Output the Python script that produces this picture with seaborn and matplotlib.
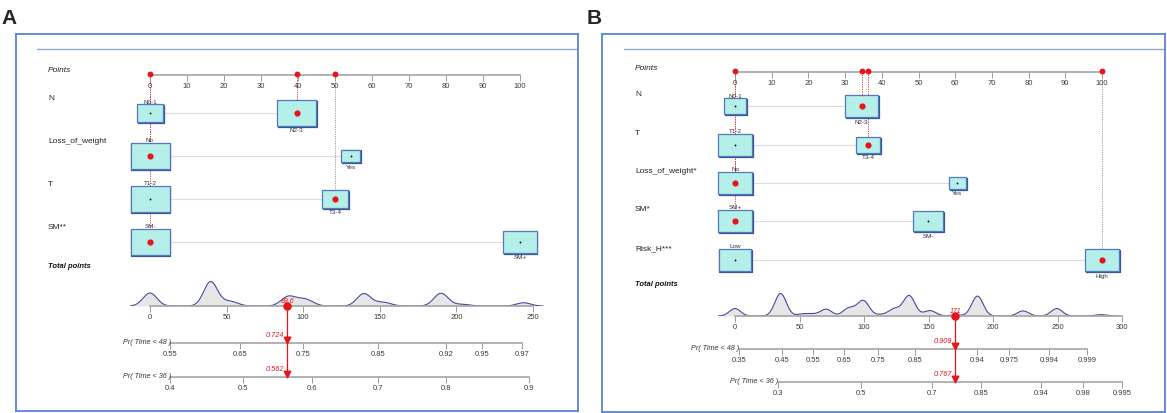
import numpy as np
import pandas as pd
import matplotlib.pyplot as plt
from matplotlib.path import Path
import matplotlib.transforms as mtransforms
import seaborn as sns

# ---------------- panel A ----------------
A_VARS = ['N', 'Loss_of_weight', 'T', 'SM**']
A_CATS = [['N0-1', 'N2-3'], ['No', 'Yes'], ['T1-2', 'T3-4'], ['SM-', 'SM+']]
A_PTS = [[0, 39.6], [0, 54.3], [0, 50], [0, 100]]
A_SHARE = [[0.31, 0.69], [0.81, 0.19], [0.69, 0.31], [0.58, 0.42]]
A_PICK = [1, 0, 1, 0]
A_TOT_TICKS = [0, 50, 100, 150, 200, 250]
A_DENS_X = [0, 39.6, 50, 54.3, 89.6, 93.9, 100, 104.3, 139.6, 150, 154.3, 189.6, 193.9, 204.3, 243.9]
A_DENS_W = [40, 75, 8, 8, 24, 8, 14, 8, 38, 7, 6, 36, 5, 5, 10]
A_PR48_AT = [13, 58.7, 99.8, 148.6, 193, 217, 243]
A_PR48_LAB = ['0.55', '0.65', '0.75', '0.85', '0.92', '0.95', '0.97']
A_PR36_AT = [13, 60.4, 105.8, 149, 193, 247.6]
A_PR36_LAB = ['0.4', '0.5', '0.6', '0.7', '0.8', '0.9']
A_PROB = [0.724, 0.562]

# ---------------- panel B ----------------
B_VARS = ['N', 'T', 'Loss_of_weight*', 'SM*', 'Risk_H***']
B_CATS = [['N0-1', 'N2-3'], ['T1-2', 'T3-4'], ['No', 'Yes'], ['SM+', 'SM-'], ['Low', 'High']]
B_PTS = [[0, 34.5], [0, 36.2], [0, 60.6], [0, 52.6], [0, 100]]
B_SHARE = [[0.31, 0.69], [0.67, 0.33], [0.79, 0.21], [0.55, 0.45], [0.49, 0.51]]
B_PICK = [1, 1, 0, 0, 1]
B_TOT_TICKS = [0, 50, 100, 150, 200, 250, 300]
B_DENS_X = [0, 34.5, 36.2, 52.6, 60.6, 70.7, 87.1, 88.8, 95.1, 100, 113.2, 123.3, 131.3,
            134.5, 136.2, 149.4, 152.6, 170.7, 187.1, 188.8, 223.3, 249.4, 283.9]
B_DENS_W = [22, 34, 34, 6, 5, 20, 11, 11, 10, 40, 4, 20, 8, 28, 28, 8, 9, 3, 30, 30, 15, 22, 4]
B_PR48_AT = [3, 36.7, 60.5, 84.8, 111, 139.5, 187.4, 212.6, 243.6, 272.8]
B_PR48_LAB = ['0.35', '0.45', '0.55', '0.65', '0.75', '0.85', '0.94', '0.975', '0.994', '0.999']
B_PR36_AT = [33, 98, 152.4, 191, 237, 270, 300]
B_PR36_LAB = ['0.3', '0.5', '0.7', '0.85', '0.94', '0.98', '0.995']
B_PROB = [0.909, 0.767]

PR_NAMES = ['Pr( Time < 48 )', 'Pr( Time < 36 )']

# ---------------- layout (pixels) ----------------
W, H = 1167, 414
LAY_A = dict(tag='A', tag_xy=(1, 18), frame=(16, 35, 578, 412), head=(37, 50),
             pts_px=(150, 520), tot_px=(150, 533), tot_max=250, lab_x=48, lab_dy=15,
             rows=[76, 114, 157, 200, 243], tot_lab_y=267, dens_y=307, dens_h=25,
             pr_y=[344, 378], box_w=39)
LAY_B = dict(tag='B', tag_xy=(587, 18), frame=(602, 35, 1165, 413), head=(624, 50),
             pts_px=(735, 1102), tot_px=(735, 1122), tot_max=300, lab_x=635, lab_dy=12.5,
             rows=[73, 107, 146, 184, 222, 261], tot_lab_y=285, dens_y=317, dens_h=23,
             pr_y=[350, 383], box_w=33.5)

RED = '#e8141b'
BOX_FILL = '#b5efe9'
BOX_EDGE = '#5577bd'
BOX_SHADE = '#34548f'
FRAME = '#5b84d2'
GRID = '#9a9a9a'
BOX_MARKER = Path([(-1, -0.68), (1, -0.68), (1, 0.68), (-1, 0.68), (-1, -0.68)], closed=True)


def rect(x0, y0, x1, y1):
    return [x0 / W, 1 - y1 / H, (x1 - x0) / W, (y1 - y0) / H]


def span(px_pair, vmax, fx0, fx1):
    p0, p1 = px_pair
    k = vmax / (p1 - p0)
    return ((fx0 - p0) * k, (fx1 - p0) * k)


def scale_axis(fig, lay, y, xlim, ticks, labels, lo, hi):
    fx0, _, fx1, _ = lay['frame']
    ax = fig.add_axes(rect(fx0, y - 2, fx1, y))
    ax.set_xlim(xlim)
    ax.set_ylim(0, 1)
    ax.patch.set_visible(False)
    for s in ('top', 'left', 'right'):
        ax.spines[s].set_visible(False)
    sp = ax.spines['bottom']
    sp.set_visible(True)
    sp.set_bounds(lo, hi)
    sp.set_color('#a6a6a6')
    sp.set_linewidth(1.2)
    ax.set_yticks([])
    ax.set_xticks(ticks, labels)
    ax.tick_params(axis='x', bottom=True, length=4, width=0.6, color='#8c8c8c', pad=1,
                   labelsize=5.5, labelcolor='#3a3a3a')
    return ax


def draw_panel(fig, lay, names, cats, pts, share, pick, dens_x, dens_w, tot_ticks,
               pr_at, pr_lab, probs):
    fx0, fy0, fx1, fy1 = lay['frame']
    rows = lay['rows']
    xl_pts = span(lay['pts_px'], 100, fx0, fx1)
    xl_tot = span(lay['tot_px'], lay['tot_max'], fx0, fx1)
    px_pt = 100 / (lay['pts_px'][1] - lay['pts_px'][0])

    fig.text(lay['tag_xy'][0] / W, 1 - lay['tag_xy'][1] / H, lay['tag'], fontsize=15,
             fontweight='bold', ha='left', va='center')

    # frame + nomogram rows
    ax = fig.add_axes(rect(fx0, fy0, fx1, fy1))
    ax.set_xlim(xl_pts)
    ax.set_ylim(fy1, fy0)
    ax.set_xticks([])
    ax.set_yticks([])
    for s in ax.spines.values():
        s.set_visible(True)
        s.set_color(FRAME)
        s.set_linewidth(1.3)
    ax.axhline(lay['head'][1], xmin=(lay['head'][0] - fx0) / (fx1 - fx0), xmax=1,
               color='#94a6cf', lw=1.0)

    lab_tr = mtransforms.blended_transform_factory(ax.transAxes, ax.transData)
    lab_xf = (lay['lab_x'] - fx0) / (fx1 - fx0)
    ax.text(lab_xf, rows[0] - 5, 'Points', transform=lab_tr, fontsize=6, style='italic',
            ha='left', va='center', color='#222222')
    for i, nm in enumerate(names):
        ax.text(lab_xf, rows[i + 1] - lay['lab_dy'], nm, transform=lab_tr, fontsize=6,
                ha='left', va='center', color='#222222')
    ax.text(lab_xf, lay['tot_lab_y'], 'Total points', transform=lab_tr, fontsize=5.5,
            style='italic', fontweight='bold', ha='left', va='center', color='#111111')

    # boxes table
    recs = []
    for i in range(len(names)):
        mx = max(share[i])
        for j in range(2):
            wpx = lay['box_w'] * np.sqrt(share[i][j] / mx)
            recs.append(dict(var=i, cat=j, x=pts[i][j], y=rows[i + 1], wpx=wpx,
                             hpx=0.68 * wpx, s=(wpx * 0.72) ** 2, label=cats[i][j],
                             picked=(pick[i] == j)))
    df = pd.DataFrame(recs)

    # connecting lines
    for i in range(len(names)):
        ax.hlines(rows[i + 1], pts[i][0], pts[i][1], color='#dcdcdc', lw=0.8, zorder=1)

    # dotted selection lines
    chosen = [pts[i][pick[i]] for i in range(len(names))]
    nonzero = [i for i in range(len(names)) if chosen[i] > 0]
    deepest = max(nonzero) if nonzero else -1
    for i in range(len(names)):
        col = GRID if i == deepest else '#d23a3a'
        ax.vlines(chosen[i], rows[0], rows[i + 1], color=col, lw=0.7,
                  linestyles=(0, (1.2, 1.2)), zorder=2)

    shade = df.assign(x=df['x'] + 0.9 * px_pt, y=df['y'] + 0.9)
    sns.scatterplot(data=shade, x='x', y='y', s=shade['s'].values, marker=BOX_MARKER,
                    color=BOX_SHADE, edgecolor=BOX_SHADE, linewidth=0.9, ax=ax,
                    legend=False, zorder=3)
    sns.scatterplot(data=df, x='x', y='y', s=df['s'].values, marker=BOX_MARKER,
                    color=BOX_FILL, edgecolor=BOX_EDGE, linewidth=0.9, ax=ax,
                    legend=False, zorder=4)
    sns.scatterplot(data=df[~df['picked']], x='x', y='y', s=2, color='#222222',
                    linewidth=0, ax=ax, legend=False, zorder=5)
    sns.scatterplot(data=df[df['picked']], x='x', y='y', s=20, color=RED,
                    linewidth=0, ax=ax, legend=False, zorder=6)
    ax.set_xlabel('')
    ax.set_ylabel('')

    for r in df.itertuples():
        if r.cat == 0:
            ax.text(r.x, r.y - r.hpx / 2 - 0.5, r.label, fontsize=4.5, ha='center',
                    va='bottom', color='#333333', zorder=7)
        else:
            ax.text(r.x, r.y + r.hpx / 2 + 1.2, r.label, fontsize=4.5, ha='center',
                    va='top', color='#333333', zorder=7)

    ax.set_xlim(xl_pts)
    ax.set_ylim(fy1, fy0)

    # density of total points
    dax = fig.add_axes(rect(fx0, lay['dens_y'] - lay['dens_h'], fx1, lay['dens_y']))
    xs = np.asarray(dens_x, float)
    ws = np.asarray(dens_w, float)
    m = np.average(xs, weights=ws)
    sd = np.sqrt(np.average((xs - m) ** 2, weights=ws))
    bw = 4.2 / sd
    sns.kdeplot(x=xs, weights=ws, bw_method=bw, gridsize=1000, fill=True, color='#e6e6e6',
                alpha=1, linewidth=0, ax=dax)
    sns.kdeplot(x=xs, weights=ws, bw_method=bw, gridsize=1000, color='#434a98',
                linewidth=0.8, ax=dax)
    top = dax.lines[-1].get_ydata().max()
    dax.set_ylim(0, top * 1.02)
    dax.set_xlim(xl_tot)
    dax.axis('off')

    # scales
    pax = scale_axis(fig, lay, rows[0], xl_pts, list(range(0, 101, 10)),
                     [str(v) for v in range(0, 101, 10)], 0, 100)
    scale_axis(fig, lay, lay['dens_y'], xl_tot, tot_ticks, [str(v) for v in tot_ticks],
               0, tot_ticks[-1])
    for k in range(2):
        scale_axis(fig, lay, lay['pr_y'][k], xl_tot, pr_at[k], pr_lab[k],
                   pr_at[k][0], pr_at[k][-1])

    # red points on the Points scale
    sel = sorted(set(chosen))
    sns.scatterplot(x=sel, y=[0] * len(sel), s=18, color=RED, linewidth=0, ax=pax,
                    legend=False, zorder=5, clip_on=False)
    pax.set_xlim(xl_pts)
    pax.set_ylim(-1, 1)

    # total points and probabilities
    tax = fig.add_axes(rect(fx0, fy0, fx1, fy1))
    tax.set_xlim(xl_tot)
    tax.set_ylim(fy1, fy0)
    tax.axis('off')
    total = sum(chosen)
    tax.vlines(total, lay['dens_y'], lay['pr_y'][-1] - 3, color=RED, lw=0.9)
    tax.scatter([total], [lay['dens_y']], s=26, color=RED, zorder=5)
    tax.annotate(f'{total:.3g}', (total, lay['dens_y']), xytext=(0, 4),
                 textcoords='offset points', ha='center', va='center', fontsize=5,
                 style='italic', color=RED)
    for k in range(2):
        y = lay['pr_y'][k]
        tax.scatter([total], [y - 3], marker='v', s=22, color=RED, zorder=5)
        tax.annotate(f'{probs[k]:.3f}', (total, y), xytext=(-2, 6),
                     textcoords='offset points', ha='right', va='center', fontsize=5.3,
                     style='italic', color=RED)
        tax.text(pr_at[k][0] + 0.5, y - 1, PR_NAMES[k], fontsize=5.2, style='italic',
                 ha='right', va='center', color='#333333')


sns.set_theme(style='white')
plt.rcParams['font.family'] = ['Liberation Sans', 'DejaVu Sans']

fig = plt.figure(figsize=(W / 100, H / 100), dpi=100)
fig.patch.set_facecolor('white')

draw_panel(fig, LAY_A, A_VARS, A_CATS, A_PTS, A_SHARE, A_PICK, A_DENS_X, A_DENS_W,
           A_TOT_TICKS, [A_PR48_AT, A_PR36_AT], [A_PR48_LAB, A_PR36_LAB], A_PROB)
draw_panel(fig, LAY_B, B_VARS, B_CATS, B_PTS, B_SHARE, B_PICK, B_DENS_X, B_DENS_W,
           B_TOT_TICKS, [B_PR48_AT, B_PR36_AT], [B_PR48_LAB, B_PR36_LAB], B_PROB)

fig.savefig('out.png', dpi=100, facecolor='white')
